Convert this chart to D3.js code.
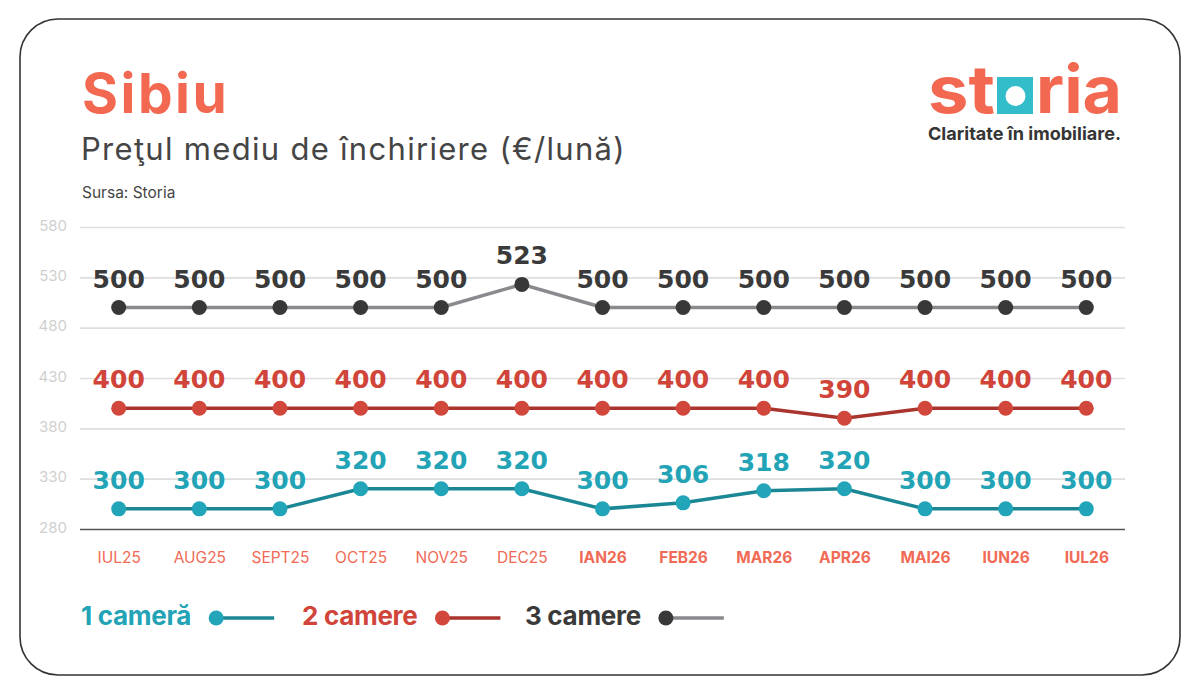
<!DOCTYPE html>
<html>
<head>
<meta charset="utf-8">
<script src="https://cdn.jsdelivr.net/npm/d3@7"></script>
<style>
  body { margin: 0; background: #fff; }
  svg { display: block; }
</style>
</head>
<body>
<svg></svg>
<script>
const size = {w: 1200, h: 694};
const plot = {l: 80, r: 1125, t: 227, b: 529};

// data
const months = ['IUL25', 'AUG25', 'SEPT25', 'OCT25', 'NOV25', 'DEC25',
    'IAN26', 'FEB26', 'MAR26', 'APR26', 'MAI26', 'IUN26', 'IUL26'];
const boldFrom = 6; // IAN26 onwards printed in bold
const oneRoom = [300, 300, 300, 320, 320, 320, 300, 306, 318, 320, 300, 300, 300];
const twoRooms = [400, 400, 400, 400, 400, 400, 400, 400, 400, 390, 400, 400, 400];
const threeRooms = [500, 500, 500, 500, 500, 523, 500, 500, 500, 500, 500, 500, 500];
const yTicks = [280, 330, 380, 430, 480, 530, 580];

const series = [
    {name: '1 cameră', values: oneRoom, dot: '#22a5b8', line: '#1b8795', label: '#22a3b6'},
    {name: '2 camere', values: twoRooms, dot: '#d1473b', line: '#a9352e', label: '#d0443a'},
    {name: '3 camere', values: threeRooms, dot: '#383838', line: '#8a8a8e', label: '#3a3a3a'}
];

const svg = d3.select('svg')
    .attr('width', size.w)
    .attr('height', size.h);

// card frame
svg.append('rect')
    .attr('x', 20).attr('y', 19)
    .attr('width', 1160).attr('height', 656)
    .attr('rx', 38)
    .attr('fill', '#fff')
    .attr('stroke', '#333')
    .attr('stroke-width', 1.6);

// titles
svg.append('text')
    .attr('x', 82).attr('y', 113)
    .attr('font-family', 'Inter')
    .attr('font-weight', 700)
    .attr('font-size', 55)
    .attr('letter-spacing', 2.5)
    .attr('fill', '#f26850')
    .text('Sibiu');

svg.append('text')
    .attr('x', 81).attr('y', 160)
    .attr('font-family', 'Inter')
    .attr('font-size', 31)
    .attr('letter-spacing', 1.3)
    .attr('fill', '#454545')
    .text('Preţul mediu de închiriere (€/lună)');

svg.append('text')
    .attr('x', 82).attr('y', 198)
    .attr('font-family', 'Inter')
    .attr('font-size', 15.5)
    .attr('fill', '#454545')
    .text('Sursa: Storia');

// logo
const logo = svg.append('g').attr('font-family', 'Inter').attr('font-weight', 700)
    .attr('font-size', 66).attr('fill', '#f26850');
logo.append('text').attr('x', 928).attr('y', 113)
    .attr('textLength', 67).attr('lengthAdjust', 'spacingAndGlyphs').text('st');
logo.append('rect').attr('x', 997).attr('y', 77).attr('width', 36).attr('height', 37)
    .attr('fill', '#33bcc9');
logo.append('circle').attr('cx', 1015.5).attr('cy', 96).attr('r', 10).attr('fill', '#fff');
logo.append('text').attr('x', 1036).attr('y', 113)
    .attr('textLength', 86).attr('lengthAdjust', 'spacingAndGlyphs').text('ria');
svg.append('text')
    .attr('x', 928).attr('y', 140)
    .attr('font-family', 'Inter')
    .attr('font-weight', 700)
    .attr('font-size', 18)
    .attr('textLength', 193)
    .attr('lengthAdjust', 'spacingAndGlyphs')
    .attr('fill', '#353535')
    .text('Claritate în imobiliare.');

// scales
const x = d3.scalePoint()
    .domain(months)
    .range([plot.l, plot.r])
    .padding(0.48);

const y = d3.scaleLinear()
    .domain([280, 580])
    .range([plot.b, plot.t]);

// grid + y axis
const yAxis = d3.axisLeft(y)
    .tickValues(yTicks)
    .tickSize(-(plot.r - plot.l))
    .tickPadding(13);

const yG = svg.append('g')
    .attr('transform', `translate(${plot.l},0)`)
    .call(yAxis);
yG.select('.domain').remove();
yG.selectAll('.tick line')
    .attr('stroke', d => d === 280 ? '#555' : '#dedede')
    .attr('stroke-width', 1.6);
yG.selectAll('.tick text')
    .attr('fill', '#cfcfcf')
    .attr('font-family', 'Inter')
    .attr('font-size', 15)
    .attr('dy', '0.2em');

// x axis labels
const xAxis = d3.axisBottom(x).tickSize(0).tickPadding(23);
const xG = svg.append('g')
    .attr('transform', `translate(0,${plot.b})`)
    .call(xAxis);
xG.select('.domain').remove();
xG.selectAll('.tick text')
    .attr('fill', '#f06a55')
    .attr('font-family', 'Inter')
    .attr('font-size', 15.5)
    .attr('font-weight', (d, i) => i >= boldFrom ? 700 : 400);

// lines, dots and value labels
const line = d3.line()
    .x((d, i) => x(months[i]))
    .y(d => y(d));

series.forEach(s => {
    const g = svg.append('g');
    g.append('path')
        .datum(s.values)
        .attr('fill', 'none')
        .attr('stroke', s.line)
        .attr('stroke-width', 3.5)
        .attr('d', line);
    g.selectAll('circle')
        .data(s.values)
        .enter()
        .append('circle')
        .attr('cx', (d, i) => x(months[i]))
        .attr('cy', d => y(d))
        .attr('r', 7.5)
        .attr('fill', s.dot);
    g.selectAll('text')
        .data(s.values)
        .enter()
        .append('text')
        .attr('x', (d, i) => x(months[i]))
        .attr('y', d => y(d) - 20)
        .attr('text-anchor', 'middle')
        .attr('font-family', 'DejaVu Sans')
        .attr('font-weight', 700)
        .attr('font-size', 25)
        .attr('fill', s.label)
        .text(d => d);
});

// legend
const legendX = [81, 302, 525];
const legend = svg.append('g');
series.forEach((s, i) => {
    const t = legend.append('text')
        .attr('x', legendX[i]).attr('y', 625)
        .attr('font-family', 'Inter')
        .attr('font-weight', 700)
        .attr('font-size', 26)
        .attr('letter-spacing', -0.3)
        .attr('fill', s.label)
        .text(s.name);
    const end = legendX[i] + t.node().getComputedTextLength() + 25;
    legend.append('line')
        .attr('x1', end).attr('x2', end + 58)
        .attr('y1', 618).attr('y2', 618)
        .attr('stroke', s.line)
        .attr('stroke-width', 3.5);
    legend.append('circle')
        .attr('cx', end).attr('cy', 618)
        .attr('r', 7.5)
        .attr('fill', s.dot);
});
</script>
</body>
</html>
